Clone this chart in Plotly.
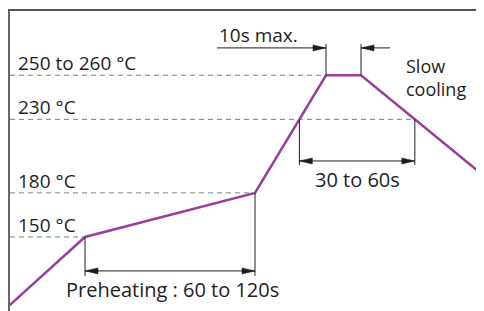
import numpy as np
import plotly.graph_objects as go

# ---------------- data ----------------
time_s = [0, 39, 124, 159.5, 177, 242.5]          # schematic time axis
temp_c = [102, 150, 180, 260, 260, 187.0]          # reflow profile temperature
ref_temps = [150, 180, 230, 260]
ref_labels = ["150 °C", "180 °C", "230 °C", "250 to 260 °C"]
preheat_span = [39, 124]
peak_span = [159.5, 177]
label_preheat = "Preheating : 60 to 120s"
label_reflow = "30 to 60s"
label_peak = "10s max."
label_cool = "Slow<br>cooling"

# derived crossing times at 230 °C
t230_rise = float(np.interp(230, [temp_c[2], temp_c[3]], [time_s[2], time_s[3]]))
t230_fall = float(np.interp(230, [temp_c[5], temp_c[4]], [time_s[5], time_s[4]]))
reflow_span = [t230_rise, t230_fall]
dash_end = [preheat_span[0], preheat_span[1], t230_fall, peak_span[0]]

# ---------------- layout constants ----------------
W, H = 484, 311
ML, MT = 2, 3
XR = [1.5, 242.5]
YR = [94.2, 303.7]
X_PX = (W - ML) / (XR[1] - XR[0])
Y_PX = (H - MT) / (YR[1] - YR[0])

PURPLE = "#9a3d9e"
DASH = "#6a8a82"
INK = "#1e1e1e"
FONT = "Open Sans"

y_pre_arrow = 126.9
y_pre_tick = 123.5
y_ref_arrow = 201.7
y_ref_tick = 199.0
y_pk_arrow = 278.6
y_pk_tick = 281.3
pk_tail = [105, 191.5]

fig = go.Figure()

# profile
fig.add_trace(go.Scatter(x=time_s, y=temp_c, mode="lines",
                         line=dict(color=PURPLE, width=2.5), hoverinfo="skip"))

shapes = []
# dashed reference lines
for T, te in zip(ref_temps, dash_end):
    shapes.append(dict(type="line", xref="x", yref="y", x0=XR[0], x1=te, y0=T, y1=T,
                       line=dict(color=DASH, width=1, dash="5px,4px")))

def vline(t, y0, y1):
    shapes.append(dict(type="line", xref="x", yref="y", x0=t, x1=t, y0=y0, y1=y1,
                       line=dict(color=INK, width=1)))

def hline(t0, t1, y):
    shapes.append(dict(type="line", xref="x", yref="y", x0=t0, x1=t1, y0=y, y1=y,
                       line=dict(color=INK, width=1)))

def head(t, y, d, L=13, hh=3):
    tb = t - d * L / X_PX
    dy = hh / Y_PX
    path = f"M {t},{y} L {tb},{y + dy} L {tb},{y - dy} Z"
    shapes.append(dict(type="path", xref="x", yref="y", path=path,
                       fillcolor=INK, line=dict(color=INK, width=0.5)))

# preheating dimension
vline(preheat_span[0], ref_temps[0], y_pre_tick)
vline(preheat_span[1], ref_temps[1], y_pre_tick)
hline(preheat_span[0], preheat_span[1], y_pre_arrow)
head(preheat_span[0], y_pre_arrow, -1)
head(preheat_span[1], y_pre_arrow, 1)

# 30 to 60 s dimension
vline(reflow_span[0], 230, y_ref_tick)
vline(reflow_span[1], 230, y_ref_tick)
hline(reflow_span[0], reflow_span[1], y_ref_arrow)
head(reflow_span[0], y_ref_arrow, -1)
head(reflow_span[1], y_ref_arrow, 1)

# 10 s max dimension
vline(peak_span[0], 260, y_pk_tick)
vline(peak_span[1], 260, y_pk_tick)
hline(pk_tail[0], peak_span[0], y_pk_arrow)
hline(peak_span[1], pk_tail[1], y_pk_arrow)
head(peak_span[0], y_pk_arrow, 1)
head(peak_span[1], y_pk_arrow, -1)

ann = []
def text(t, y, s, size, xa="left", ys=0, xs=0):
    ann.append(dict(x=t, y=y, xref="x", yref="y", text=s, showarrow=False,
                    xanchor=xa, yanchor="middle", yshift=ys, xshift=xs, align="left",
                    font=dict(family=FONT, size=size, color=INK)))

for T, s in zip(ref_temps, ref_labels):
    text(4.5, T, s, 19, ys=12)
text(pk_tail[0], y_pk_arrow, label_peak, 19, ys=13)
text(198.5, 260, label_cool, 18, ys=-2)
text(sum(reflow_span) / 2, y_ref_arrow, label_reflow, 20, xa="center", ys=-19)
text(sum(preheat_span) / 2, y_pre_arrow, label_preheat, 20, xa="center", ys=-19, xs=2)

fig.update_layout(
    width=W, height=H,
    margin=dict(l=ML, r=0, t=MT, b=0),
    paper_bgcolor="white", plot_bgcolor="white",
    showlegend=False,
    shapes=shapes, annotations=ann,
    xaxis=dict(range=XR, side="top", showline=True, linecolor="#555", linewidth=2,
               showgrid=False, zeroline=False, showticklabels=False, ticks=""),
    yaxis=dict(range=YR, showline=True, linecolor="#666", linewidth=2,
               showgrid=False, zeroline=False, showticklabels=False, ticks=""),
)

fig.write_html("out.html")
